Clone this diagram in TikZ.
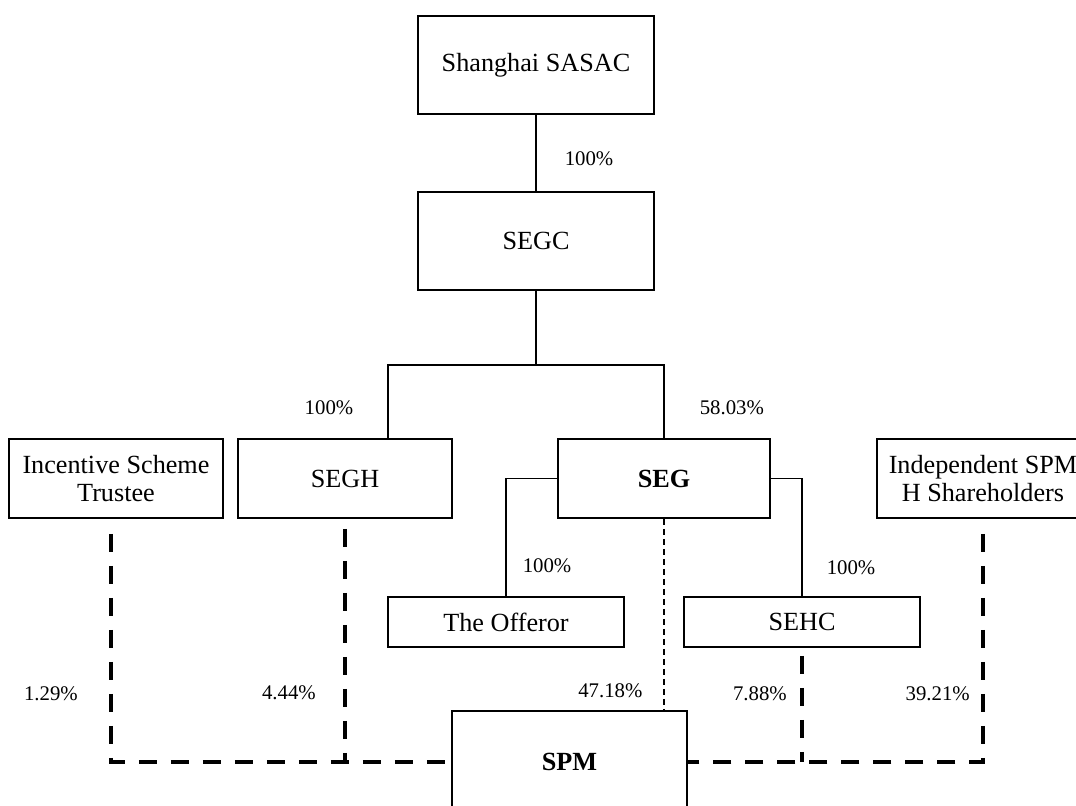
\documentclass[tikz,border=0pt]{standalone}
\usepackage{fontspec}
\setmainfont{Liberation Serif}
\usepackage{tikz}
\usetikzlibrary{calc}
\usetikzlibrary{positioning}

\tikzset{
  entity/.style={draw, line width=0.75pt, inner sep=0pt, align=center, font=\fontsize{13.1}{14}\selectfont},
  pct/.style={inner sep=0pt, font=\fontsize{10.4}{12}\selectfont},
  stake/.style={line width=0.75pt},
  minor/.style={line width=2.2pt, dash pattern=on 9pt off 7pt},
  direct/.style={line width=0.6pt, dash pattern=on 3pt off 2pt}
}

\begin{document}
\begin{tikzpicture}[x=0.5pt, y=-0.5pt, line join=miter]
  \useasboundingbox (0,0) rectangle (1076,805);
  %--- Owners
    \node[entity, minimum width=118pt, minimum height=49pt] (sasac) at (536,65) {Shanghai SASAC};
    \node[entity, minimum width=118pt, minimum height=49pt] (segc) at (536,241) {SEGC};
  %--- Middle row
    \node[entity, minimum width=107pt, minimum height=39.5pt] (trustee) at (116,478.5) {Incentive Scheme\\Trustee};
    \node[entity, minimum width=107pt, minimum height=39.5pt] (segh) at (345,478.5) {SEGH};
    \node[entity, minimum width=106pt, minimum height=39.5pt] (seg) at (664,478.5) {\textbf{SEG}};
    \node[entity, minimum width=106pt, minimum height=39.5pt] (indep) at (983,478.5) {Independent SPM\\H Shareholders};
  %--- Subsidiaries
    \node[entity, minimum width=118pt, minimum height=25pt] (offeror) at (506,622) {The Offeror};
    \node[entity, minimum width=118pt, minimum height=25pt] (sehc) at (802,622) {SEHC};
    \node[entity, minimum width=117.5pt, minimum height=51pt] (spm) at (569.5,762) {\textbf{SPM}};
  %--- SASAC to SEGC
    \draw[stake] (sasac) -- node[pct, right=14pt, pos=0.58] {100\%} (segc);
  %--- SEGC to SEGH and SEG
    \coordinate (fork) at ([yshift=-37pt]segc.south);
    \draw[stake] (segc) -- (fork);
    \draw[stake] ([xshift=21.5pt]segh.north) |- node[pct, left=17pt, pos=0.21] {100\%} (fork)
      -| node[pct, right=17.5pt, pos=0.79] {58.03\%} (seg.north);
  %--- SEG to Offeror and SEHC
    \draw[stake] (seg.west) -| node[pct, right=8pt, pos=0.87] {100\%} (offeror.north);
    \draw[stake] (seg.east) -| node[pct, right=12pt, pos=0.88] {100\%} (sehc.north);
  %--- SEG to SPM
    \draw[direct] (seg.south) -- node[pct, left=10.5pt, pos=0.9] {47.18\%} (seg.south |- spm.north);
  %--- left holders of SPM
    \draw[minor] ([xshift=-2.5pt, yshift=-7.5pt]trustee.south) |- node[pct, left=15.5pt, pos=0.35] {1.29\%} (spm.west);
    \draw[minor] ([yshift=-5pt]segh.south) -- node[pct, left=13.5pt, pos=0.705] {4.44\%} (segh.south |- spm.west);
  %--- right holders of SPM
    \draw[minor] ([yshift=-7.5pt]indep.south) |- node[pct, left=5.5pt, pos=0.35] {39.21\%} (spm.east);
    \draw[minor] ([yshift=-4pt]sehc.south) -- node[pct, left=6.5pt, pos=0.355] {7.88\%} (sehc.south |- spm.east);
\end{tikzpicture}
\end{document}
